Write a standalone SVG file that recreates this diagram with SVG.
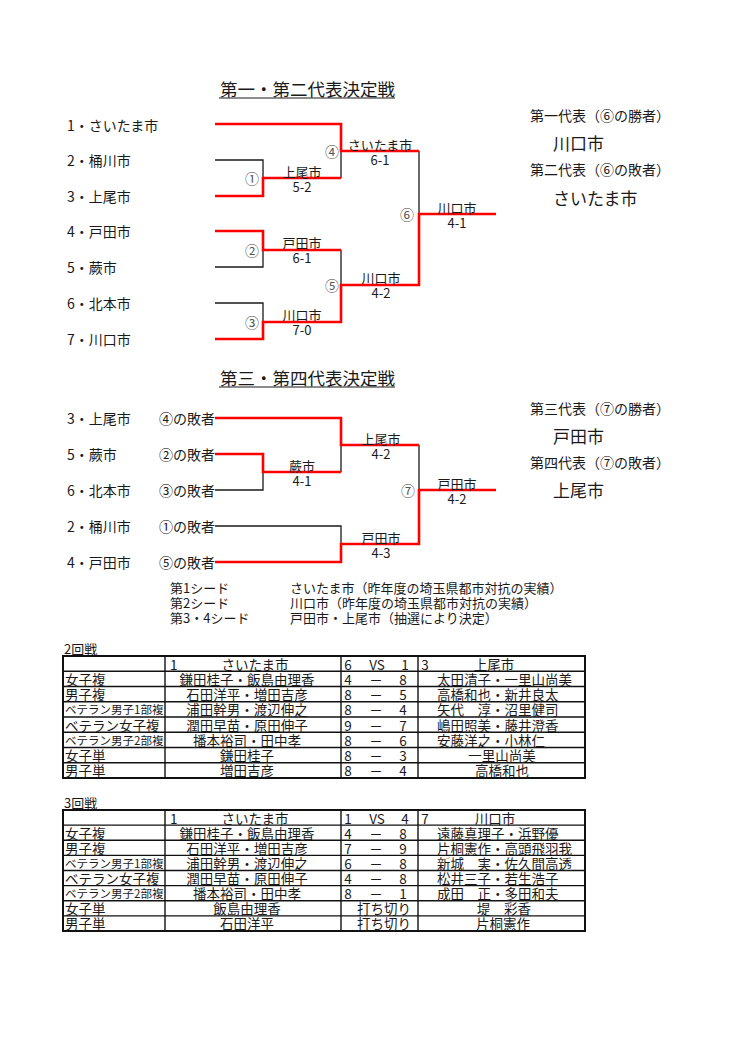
<svg xmlns="http://www.w3.org/2000/svg" width="740" height="1047" viewBox="0 0 740 1047">
<style>
text{font-family:"Noto Sans CJK JP","Noto Sans CJK SC",sans-serif;fill:#1a1a1a;dominant-baseline:central}
.ttl{font-size:17.5px}
.ent{font-size:14px}
.res{font-size:13px;text-anchor:middle}
.cn{font-size:14px;fill:#555;text-anchor:middle}
.rep{font-size:14px}
.big{font-size:17px}
.seed{font-size:13px}
.tb{font-size:13.5px}
.sm{font-size:11.5px}
.mid{text-anchor:middle}
.r{stroke:#f00;stroke-width:2.6;fill:none;stroke-linejoin:miter}
.k{stroke:#1a1a1a;stroke-width:1.3;fill:none}
.ul{stroke:#1a1a1a;stroke-width:1.1}
.outer{fill:none;stroke:#111;stroke-width:2}
.grid{stroke:#111;stroke-width:1.4}
</style>
<rect width="740" height="1047" fill="#fff"/>

<!-- ===== Bracket 1 ===== -->
<g id="title1"><text class="ttl" x="220" y="88">第一・第二代表決定戦</text><line class="ul" x1="219" y1="98" x2="395" y2="98"/></g>
<g id="b1-teams">
<text class="ent" x="67" y="125">1・さいたま市</text>
<text class="ent" x="67" y="160">2・桶川市</text>
<text class="ent" x="67" y="196">3・上尾市</text>
<text class="ent" x="67" y="231">4・戸田市</text>
<text class="ent" x="67" y="267">5・蕨市</text>
<text class="ent" x="67" y="303">6・北本市</text>
<text class="ent" x="67" y="339">7・川口市</text>
</g>
<g id="b1-connectors">
<path class="k" d="M215,160H263V178"/>
<path class="k" d="M341,178V151"/>
<path class="k" d="M215,267H263V250"/>
<path class="k" d="M215,303H263V322"/>
<path class="k" d="M341,250V285"/>
<path class="k" d="M419,151V214"/>
<path class="r" d="M215,124H341V151H419"/>
<path class="r" d="M215,196H263V178H341"/>
<path class="r" d="M215,231H263V250H341"/>
<path class="r" d="M215,339H263V322H341V285H419V214H496"/>
</g>
<g id="m1"><text class="cn" x="252" y="178">①</text><text class="res" x="302" y="171">上尾市</text><text class="res" x="302" y="186">5-2</text></g>
<g id="m2"><text class="cn" x="252" y="250">②</text><text class="res" x="302" y="242">戸田市</text><text class="res" x="302" y="257">6-1</text></g>
<g id="m3"><text class="cn" x="252" y="322">③</text><text class="res" x="302" y="314">川口市</text><text class="res" x="302" y="329">7-0</text></g>
<g id="m4"><text class="cn" x="332" y="151">④</text><text class="res" x="380" y="144">さいたま市</text><text class="res" x="380" y="159">6-1</text></g>
<g id="m5"><text class="cn" x="332" y="285">⑤</text><text class="res" x="381" y="277">川口市</text><text class="res" x="381" y="292">4-2</text></g>
<g id="m6"><text class="cn" x="407" y="214">⑥</text><text class="res" x="457" y="207">川口市</text><text class="res" x="457" y="222">4-1</text></g>
<g id="rep1">
<text class="rep" x="530" y="115">第一代表（⑥の勝者）</text>
<text class="big" x="553" y="142">川口市</text>
<text class="rep" x="530" y="169">第二代表（⑥の敗者）</text>
<text class="big" x="553" y="197">さいたま市</text>
</g>

<!-- ===== Bracket 2 ===== -->
<g id="title2"><text class="ttl" x="220" y="377">第三・第四代表決定戦</text><line class="ul" x1="219" y1="387" x2="395" y2="387"/></g>
<g id="b2-teams">
<text class="ent" x="67" y="418">3・上尾市</text><text class="ent" x="159" y="418">④の敗者</text>
<text class="ent" x="67" y="454">5・蕨市</text><text class="ent" x="159" y="454">②の敗者</text>
<text class="ent" x="67" y="490">6・北本市</text><text class="ent" x="159" y="490">③の敗者</text>
<text class="ent" x="67" y="526">2・桶川市</text><text class="ent" x="159" y="526">①の敗者</text>
<text class="ent" x="67" y="562">4・戸田市</text><text class="ent" x="159" y="562">⑤の敗者</text>
</g>
<g id="b2-connectors">
<path class="k" d="M341,445V472"/>
<path class="k" d="M215,490H263V472"/>
<path class="k" d="M419,445V490"/>
<path class="k" d="M215,526H341V544"/>
<path class="r" d="M215,418H341V445H419"/>
<path class="r" d="M215,454H263V472H341"/>
<path class="r" d="M215,562H341V544H419V490H496"/>
</g>
<g id="n1"><text class="res" x="302" y="465">蕨市</text><text class="res" x="302" y="480">4-1</text></g>
<g id="n2"><text class="res" x="381" y="438">上尾市</text><text class="res" x="381" y="453">4-2</text></g>
<g id="n3"><text class="res" x="381" y="537">戸田市</text><text class="res" x="381" y="552">4-3</text></g>
<g id="n4"><text class="cn" x="408" y="490">⑦</text><text class="res" x="457" y="483">戸田市</text><text class="res" x="457" y="498">4-2</text></g>
<g id="rep2">
<text class="rep" x="530" y="408">第三代表（⑦の勝者）</text>
<text class="big" x="553" y="435">戸田市</text>
<text class="rep" x="530" y="462">第四代表（⑦の敗者）</text>
<text class="big" x="553" y="489">上尾市</text>
</g>

<!-- ===== Seeds ===== -->
<g id="seeds">
<text class="seed" x="170" y="587">第1シード</text><text class="seed" x="290" y="587">さいたま市（昨年度の埼玉県都市対抗の実績）</text>
<text class="seed" x="170" y="602">第2シード</text><text class="seed" x="290" y="602">川口市（昨年度の埼玉県都市対抗の実績）</text>
<text class="seed" x="170" y="617">第3・4シード</text><text class="seed" x="290" y="617">戸田市・上尾市（抽選により決定）</text>
</g>

<!-- ===== Table 2回戦 ===== -->
<g id="table2">
<text class="seed" x="64" y="648">2回戦</text>
<rect class="outer" x="63" y="656" width="522" height="122"/>
<g class="grid">
<line x1="63" y1="671.25" x2="585" y2="671.25"/><line x1="63" y1="686.5" x2="585" y2="686.5"/><line x1="63" y1="701.75" x2="585" y2="701.75"/><line x1="63" y1="717" x2="585" y2="717"/><line x1="63" y1="732.25" x2="585" y2="732.25"/><line x1="63" y1="747.5" x2="585" y2="747.5"/><line x1="63" y1="762.75" x2="585" y2="762.75"/>
<line x1="165" y1="656" x2="165" y2="778"/><line x1="341" y1="656" x2="341" y2="778"/><line x1="418" y1="656" x2="418" y2="778"/>
</g>
<text class="tb" x="170" y="663.6">1</text><text class="tb mid" x="255" y="663.6">さいたま市</text>
<text class="tb mid" x="348" y="663.6">6</text><text class="tb mid" x="377" y="663.6">VS</text><text class="tb mid" x="405" y="663.6">1</text>
<text class="tb mid" x="425" y="663.6">3</text><text class="tb mid" x="494" y="663.6">上尾市</text>
<text class="tb" x="65" y="678.9">女子複</text>
<text class="tb" x="65" y="694.1">男子複</text>
<text class="sm" x="65" y="709.4">ベテラン男子1部複</text>
<text class="tb" x="65" y="724.6">ベテラン女子複</text>
<text class="sm" x="65" y="739.9">ベテラン男子2部複</text>
<text class="tb" x="65" y="755.1">女子単</text>
<text class="tb" x="65" y="770.4">男子単</text>
<text class="tb mid" x="247" y="678.9">鎌田桂子・飯島由理香</text>
<text class="tb mid" x="247" y="694.1">石田洋平・増田吉彦</text>
<text class="tb mid" x="247" y="709.4">浦田幹男・渡辺伸之</text>
<text class="tb mid" x="247" y="724.6">潤田早苗・原田伸子</text>
<text class="tb mid" x="247" y="739.9">播本裕司・田中孝</text>
<text class="tb mid" x="247" y="755.1">鎌田桂子</text>
<text class="tb mid" x="247" y="770.4">増田吉彦</text>
<text class="tb mid" x="348" y="678.9">4</text><text class="tb mid" x="376" y="678.9">－</text><text class="tb mid" x="403" y="678.9">8</text>
<text class="tb mid" x="348" y="694.1">8</text><text class="tb mid" x="376" y="694.1">－</text><text class="tb mid" x="403" y="694.1">5</text>
<text class="tb mid" x="348" y="709.4">8</text><text class="tb mid" x="376" y="709.4">－</text><text class="tb mid" x="403" y="709.4">4</text>
<text class="tb mid" x="348" y="724.6">9</text><text class="tb mid" x="376" y="724.6">－</text><text class="tb mid" x="403" y="724.6">7</text>
<text class="tb mid" x="348" y="739.9">8</text><text class="tb mid" x="376" y="739.9">－</text><text class="tb mid" x="403" y="739.9">6</text>
<text class="tb mid" x="348" y="755.1">8</text><text class="tb mid" x="376" y="755.1">－</text><text class="tb mid" x="403" y="755.1">3</text>
<text class="tb mid" x="348" y="770.4">8</text><text class="tb mid" x="376" y="770.4">－</text><text class="tb mid" x="403" y="770.4">4</text>
<text class="tb" x="437" y="678.9">太田清子・一里山尚美</text>
<text class="tb" x="437" y="694.1">高橋和也・新井良太</text>
<text class="tb" x="437" y="709.4">矢代　淳・沼里健司</text>
<text class="tb" x="437" y="724.6">嶋田照美・藤井澄香</text>
<text class="tb" x="437" y="739.9">安藤洋之・小林仁</text>
<text class="tb mid" x="502" y="755.1">一里山尚美</text>
<text class="tb mid" x="502" y="770.4">高橋和也</text>
</g>

<!-- ===== Table 3回戦 ===== -->
<g id="table3">
<text class="seed" x="64" y="802">3回戦</text>
<rect class="outer" x="63" y="810" width="522" height="121"/>
<g class="grid">
<line x1="63" y1="825.1" x2="585" y2="825.1"/><line x1="63" y1="840.25" x2="585" y2="840.25"/><line x1="63" y1="855.4" x2="585" y2="855.4"/><line x1="63" y1="870.5" x2="585" y2="870.5"/><line x1="63" y1="885.6" x2="585" y2="885.6"/><line x1="63" y1="900.75" x2="585" y2="900.75"/><line x1="63" y1="915.9" x2="585" y2="915.9"/>
<line x1="165" y1="810" x2="165" y2="931"/><line x1="341" y1="810" x2="341" y2="931"/><line x1="418" y1="810" x2="418" y2="931"/>
</g>
<text class="tb" x="170" y="817.6">1</text><text class="tb mid" x="255" y="817.6">さいたま市</text>
<text class="tb mid" x="348" y="817.6">1</text><text class="tb mid" x="377" y="817.6">VS</text><text class="tb mid" x="405" y="817.6">4</text>
<text class="tb mid" x="425" y="817.6">7</text><text class="tb mid" x="495" y="817.6">川口市</text>
<text class="tb" x="65" y="832.7">女子複</text>
<text class="tb" x="65" y="847.8">男子複</text>
<text class="sm" x="65" y="863">ベテラン男子1部複</text>
<text class="tb" x="65" y="878">ベテラン女子複</text>
<text class="sm" x="65" y="893.2">ベテラン男子2部複</text>
<text class="tb" x="65" y="908.3">女子単</text>
<text class="tb" x="65" y="923.4">男子単</text>
<text class="tb mid" x="247" y="832.7">鎌田桂子・飯島由理香</text>
<text class="tb mid" x="247" y="847.8">石田洋平・増田吉彦</text>
<text class="tb mid" x="247" y="863">浦田幹男・渡辺伸之</text>
<text class="tb mid" x="247" y="878">潤田早苗・原田伸子</text>
<text class="tb mid" x="247" y="893.2">播本裕司・田中孝</text>
<text class="tb mid" x="247" y="908.3">飯島由理香</text>
<text class="tb mid" x="247" y="923.4">石田洋平</text>
<text class="tb mid" x="348" y="832.7">4</text><text class="tb mid" x="376" y="832.7">－</text><text class="tb mid" x="403" y="832.7">8</text>
<text class="tb mid" x="348" y="847.8">7</text><text class="tb mid" x="376" y="847.8">－</text><text class="tb mid" x="403" y="847.8">9</text>
<text class="tb mid" x="348" y="863">6</text><text class="tb mid" x="376" y="863">－</text><text class="tb mid" x="403" y="863">8</text>
<text class="tb mid" x="348" y="878">4</text><text class="tb mid" x="376" y="878">－</text><text class="tb mid" x="403" y="878">8</text>
<text class="tb mid" x="348" y="893.2">8</text><text class="tb mid" x="376" y="893.2">－</text><text class="tb mid" x="403" y="893.2">1</text>
<text class="tb mid" x="384" y="908.3">打ち切り</text>
<text class="tb mid" x="384" y="923.4">打ち切り</text>
<text class="tb" x="437" y="832.7">遠藤真理子・浜野優</text>
<text class="tb" x="437" y="847.8">片桐憲作・高頭飛羽我</text>
<text class="tb" x="437" y="863">新城　実・佐久間高透</text>
<text class="tb" x="437" y="878">松井三子・若生浩子</text>
<text class="tb" x="437" y="893.2">成田　正・多田和夫</text>
<text class="tb mid" x="504" y="908.3">堤　彩香</text>
<text class="tb mid" x="503" y="923.4">片桐憲作</text>
</g>
</svg>
